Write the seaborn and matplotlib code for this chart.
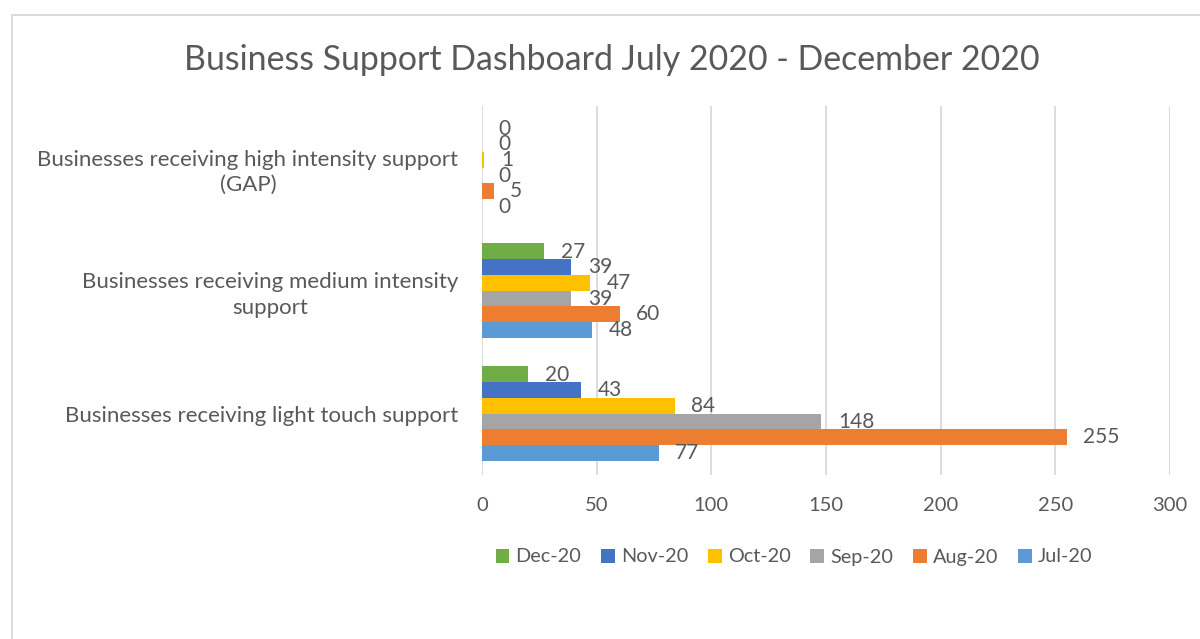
import seaborn as sns
import matplotlib.pyplot as plt
import pandas as pd
from matplotlib.patches import Rectangle

# categories top to bottom, months in legend order
categories = [
    "Businesses receiving high intensity support\n(GAP)",
    "Businesses receiving medium intensity\nsupport",
    "Businesses receiving light touch support",
]
months = ["Dec-20", "Nov-20", "Oct-20", "Sep-20", "Aug-20", "Jul-20"]
month_colors = ["#70AD47", "#4472C4", "#FFC000", "#A5A5A5", "#ED7D31", "#5B9BD5"]

high_vals = [0, 0, 1, 0, 5, 0]
medium_vals = [27, 39, 47, 39, 60, 48]
light_vals = [20, 43, 84, 148, 255, 77]

x_ticks = [0, 50, 100, 150, 200, 250, 300]

rows = []
for cat, vals in zip(categories, [high_vals, medium_vals, light_vals]):
    for m, v in zip(months, vals):
        rows.append({"category": cat, "month": m, "value": v})
df = pd.DataFrame(rows)

sns.set_theme(style="white")
plt.rcParams["font.family"] = ["Lato", "DejaVu Sans"]
text_color = "#595959"

fig = plt.figure(figsize=(12, 6.39), dpi=100)
ax = fig.add_axes([0.4017, 1 - 475 / 639, 0.5733, 369 / 639])

sns.barplot(data=df, y="category", x="value", hue="month",
            order=categories, hue_order=months, palette=month_colors,
            orient="h", width=0.766, gap=0, linewidth=0, saturation=1,
            errorbar=None, ax=ax)

for cont in ax.containers:
    labels = ax.bar_label(cont, padding=12, fontsize=15, color=text_color)
    for t in labels:
        t.set_y(t.get_position()[1])
        t.set_va("top")
        t.xyann = (t.xyann[0], t.xyann[1] + 7)

ax.set_xlim(0, 300)
ax.set_xticks(x_ticks)
ax.set_xlabel("")
ax.set_ylabel("")
ax.grid(axis="x", color="#D9D9D9", linewidth=1.3)
ax.set_axisbelow(True)
for s in ax.spines.values():
    s.set_visible(False)
ax.tick_params(axis="x", length=0, pad=16, labelsize=14.5, labelcolor=text_color)
ax.tick_params(axis="y", length=0, pad=17, labelsize=16, labelcolor=text_color)
for lbl in ax.get_yticklabels():
    lbl.set_multialignment("center")
    lbl.set_linespacing(1.35)

leg = ax.legend(loc="center", bbox_to_anchor=(794 / 1200, 1 - 557 / 639),
                bbox_transform=fig.transFigure, ncol=6, frameon=False,
                fontsize=14.3, handlelength=0.7, handleheight=0.7,
                handletextpad=0.3, columnspacing=1.0)
for t in leg.get_texts():
    t.set_color(text_color)

fig.text(612 / 1200, 1 - 60 / 639, "Business Support Dashboard July 2020 - December 2020",
         ha="center", va="center", fontsize=24.4, color=text_color)

fig.patches.append(Rectangle((12 / 1200, -0.1), 1.2, 1.1 - 15 / 639,
                             transform=fig.transFigure, fill=False,
                             edgecolor="#D9D9D9", linewidth=1.3))

fig.savefig("out.png", dpi=100)
